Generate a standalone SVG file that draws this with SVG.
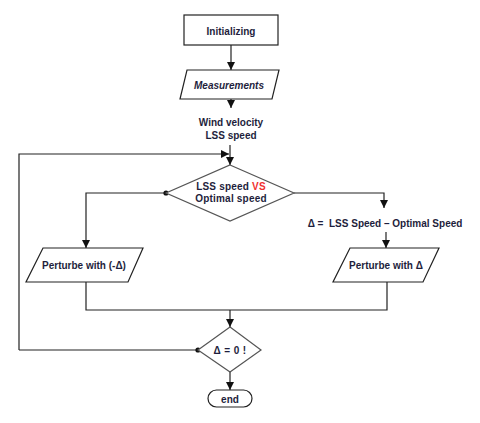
<svg xmlns="http://www.w3.org/2000/svg" width="480" height="423" viewBox="0 0 480 423">
<style>
.s{fill:#fff;stroke:#222;stroke-width:1.2}
.d{fill:#fff;stroke:#555;stroke-width:1.2}
.c{fill:none;stroke:#222;stroke-width:1.2}
text{font-family:"Liberation Sans",Arial,sans-serif;font-weight:bold;fill:#1e1e3c;font-size:10px}
</style>
<defs>
<marker id="a" viewBox="0 0 10 10" refX="10" refY="5" markerWidth="8" markerHeight="8" markerUnits="userSpaceOnUse" orient="auto"><path d="M0,0 L10,5 L0,10 z" fill="#111"/></marker>
</defs>
<rect width="480" height="423" fill="#fff"/>
<g id="connectors">
<path class="c" d="M231,45 V70" marker-end="url(#a)"/>
<path class="c" d="M231,99 V108" marker-end="url(#a)"/>
<path class="c" d="M230,145 V165" marker-end="url(#a)"/>
<path class="c" d="M19,350 V154 H229" marker-end="url(#a)"/>
<path class="c" d="M166,193 H86 V248" marker-end="url(#a)"/>
<path class="c" d="M294,193 H384 V208" marker-end="url(#a)"/>
<path class="c" d="M386,232 V248" marker-end="url(#a)"/>
<path class="c" d="M86,282 V310 H387 V282"/>
<path class="c" d="M230,310 V327" marker-end="url(#a)"/>
<path class="c" d="M19,350 H198"/>
<path class="c" d="M230,372 V390" marker-end="url(#a)"/>
<circle cx="166" cy="193" r="2.6" fill="#111"/>
<circle cx="198" cy="350" r="2.6" fill="#111"/>
</g>
<g id="initializing">
<rect class="s" x="184" y="15" width="94" height="30"/>
<text x="231" y="35" text-anchor="middle" font-size="12.5">Initializing</text>
</g>
<g id="measurements">
<polygon class="s" points="187,70 279,70 272,99 180,99"/>
<text x="229" y="89" text-anchor="middle" font-style="italic" font-size="12">Measurements</text>
</g>
<g id="inputs">
<text x="231" y="126" text-anchor="middle">Wind velocity</text>
<text x="231" y="139" text-anchor="middle">LSS speed</text>
</g>
<g id="compare">
<polygon class="d" points="230,165 294,193 230,221 166,193"/>
<text x="231" y="190" text-anchor="middle" letter-spacing="0.2">LSS speed <tspan fill="#f03030">VS</tspan></text>
<text x="231" y="202" text-anchor="middle" letter-spacing="0.2">Optimal speed</text>
</g>
<g id="delta">
<text x="385" y="227" text-anchor="middle" font-size="10.5" xml:space="preserve">Δ =  LSS Speed – Optimal Speed</text>
</g>
<g id="perturb-neg">
<polygon class="s" points="43,248 143,248 128,282 26,282"/>
<text x="84" y="269" text-anchor="middle" font-size="10.8">Perturbe with (-Δ)</text>
</g>
<g id="perturb-pos">
<polygon class="s" points="350,248 439,248 423,282 333,282"/>
<text x="386" y="269" text-anchor="middle" font-size="10.8">Perturbe with Δ</text>
</g>
<g id="check">
<polygon class="d" points="230,327 261,350 230,372 198,350"/>
<text x="230" y="354" text-anchor="middle" font-size="10.5" letter-spacing="0.4">Δ = 0 !</text>
</g>
<g id="end">
<rect class="s" x="208" y="390" width="44" height="17" rx="8.5"/>
<text x="230" y="403" text-anchor="middle" font-size="12.5">end</text>
</g>
</svg>
